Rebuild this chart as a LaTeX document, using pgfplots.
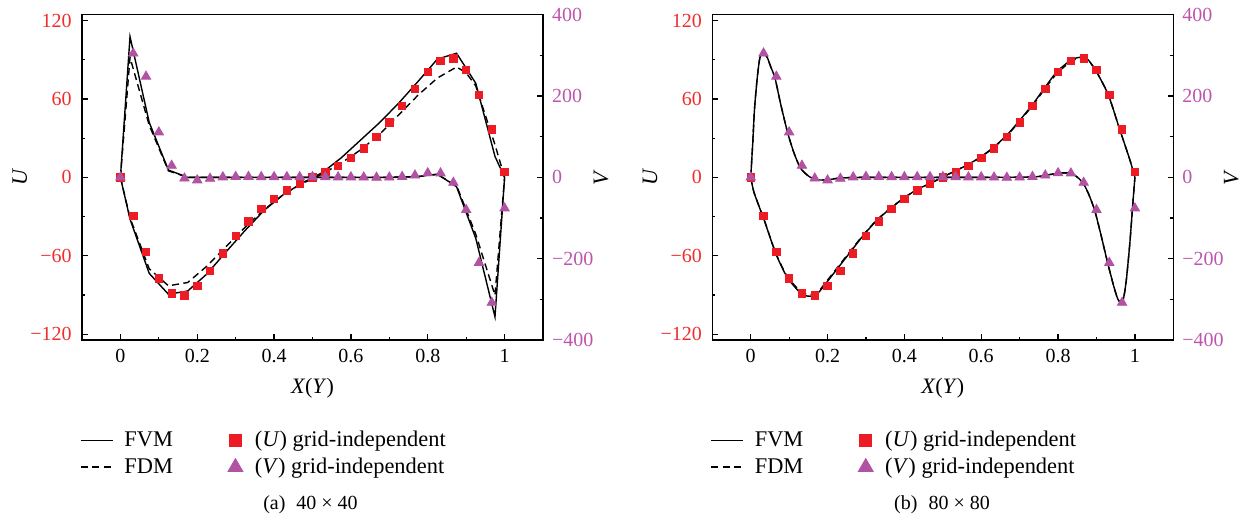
\documentclass[border=0pt]{standalone}
\usepackage{pgfplots}
\pgfplotsset{compat=1.18}
\usepackage{fontspec}
\setmainfont{Liberation Serif}
\definecolor{ured}{RGB}{237,28,36}
\definecolor{utick}{RGB}{240,45,45}
\definecolor{vpurple}{RGB}{178,82,162}
\definecolor{vtick}{RGB}{190,85,172}

\pgfplotsset{
  lgline/.style={legend image code/.code={\draw[##1] (0pt,0pt) -- (16pt,0pt);}},
  lgmark/.style={legend image code/.code={\path (0pt,0pt) (8pt,0pt); \draw[##1] plot coordinates {(4pt,0pt)};}},
  common/.style={
    scale only axis, width=230.5pt, height=162.65pt,
    xmin=-0.1, xmax=1.1,
    tick align=inside,
    major tick length=2.85pt, minor tick length=1.5pt,
    axis line style={line width=0.8pt},
    every tick/.style={black, line width=0.6pt},
    ticklabel style={font=\fontsize{10}{12}\selectfont},
  },
  uaxis/.style={
    common,
    ymin=-124.5, ymax=124.5,
    xtick={0,0.2,0.4,0.6,0.8,1}, xticklabels={0,0.2,0.4,0.6,0.8,1},
    minor xtick={0.1,0.3,0.5,0.7,0.9},
    ytick={-120,-60,0,60,120}, yticklabels={−120,−60,0,60,120},
    minor ytick={-90,-30,30,90},
    xtick pos=left, ytick pos=left,
    yticklabel style={text=utick, xshift=-1.7pt},
    xticklabel style={yshift=-1pt},
    xlabel={\textit{X}(\textit{Y})},
    xlabel style={at={(axis description cs:0.5,-0.148)}, anchor=center, font=\fontsize{11}{13}\selectfont},
    ylabel={\textit{U}},
    ylabel style={at={(axis description cs:-0.135,0.5)}, anchor=center, font=\fontsize{11}{13}\selectfont},
    legend columns=2,
    legend cell align=left,
    legend style={draw=none, fill=none, at={(axis description cs:-0.018,-0.255)}, anchor=north west,
      font=\fontsize{11.2}{12}\selectfont,
      /tikz/every odd column/.append style={column sep=3.5pt},
      /tikz/every even column/.append style={column sep=25pt}, row sep=0pt},
  },
  vaxis/.style={
    common,
    ymin=-400, ymax=400,
    axis x line=none, axis y line*=right,
    ytick={-400,-200,0,200,400}, yticklabels={−400,−200,0,200,400},
    minor ytick={-300,-100,100,300},
    yticklabel style={text=vtick, xshift=1pt},
    ylabel={\textit{V}},
    ylabel style={at={(axis description cs:1.126,0.5)}, anchor=center, font=\fontsize{11}{13}\selectfont},
  },
  fvm/.style={black, line width=0.7pt},
  fdm/.style={black, line width=0.7pt, dash pattern=on 3.5pt off 2.2pt},
  usq/.style={only marks, mark=square*, mark size=1.85pt, color=ured},
  vtri/.style={only marks, mark=triangle*, mark size=2.7pt, color=vpurple},
}

\pgfplotstableread{
x U
0 0
0.03333 -29.6
0.06667 -56.9
0.1 -77.3
0.13333 -88.8
0.16667 -90.5
0.2 -83.3
0.23333 -71.7
0.26667 -58.2
0.3 -45
0.33333 -33.8
0.36667 -24.2
0.4 -16.6
0.43333 -10.1
0.46667 -5
0.5 0
0.53333 4.1
0.56667 8.9
0.6 15
0.63333 22.2
0.66667 31.1
0.7 42.1
0.73333 54.6
0.76667 67.9
0.8 80.9
0.83333 89.3
0.86667 90.9
0.9 82.2
0.93333 63.3
0.96667 36.7
1 4.3
}\usq

\pgfplotstableread{
x V
0 0
0.03333 305
0.06667 248
0.1 111
0.13333 29
0.16667 -2.5
0.2 -7
0.23333 -3
0.26667 0.5
0.3 1.5
0.33333 1.5
0.36667 1
0.4 1
0.43333 1
0.46667 1
0.5 1
0.53333 1
0.56667 0.5
0.6 0.5
0.63333 0
0.66667 -0.5
0.7 0
0.73333 1.5
0.76667 5
0.8 10.5
0.83333 10
0.86667 -13
0.9 -80
0.93333 -210
0.96667 -308
1 -76
}\vtri

\pgfplotstableread{
x U
0 0
0.025 -32
0.075 -73.5
0.125 -89.5
0.175 -87
0.225 -74
0.275 -57
0.325 -40.5
0.375 -25
0.425 -13
0.475 -4
0.525 3.5
0.575 15
0.625 28.5
0.675 42
0.725 57
0.775 73.5
0.825 90.5
0.875 95
0.925 72
0.975 16
1 0
}\aUfvm

\pgfplotstableread{
x U
0 0
0.025 -31
0.075 -70
0.125 -83
0.175 -80.5
0.225 -68
0.275 -53
0.325 -38
0.375 -24.5
0.425 -13
0.475 -4.5
0.525 2.5
0.575 11
0.625 21
0.675 33
0.725 48
0.775 63
0.825 76
0.875 84.5
0.9 80
0.925 70
0.975 25
1 0
}\aUfdm

\pgfplotstableread{
x V
0 0
0.025 346
0.075 135
0.125 18
0.175 0
0.225 0
0.275 0
0.325 0
0.375 0
0.425 0
0.475 0
0.525 0
0.575 0
0.625 0
0.675 0
0.725 0.5
0.775 2
0.825 8
0.875 -23
0.925 -150
0.975 -343
1 0
}\aVfvm

\pgfplotstableread{
x V
0 0
0.025 295
0.075 128
0.125 16
0.175 0
0.225 0
0.275 0
0.325 0
0.375 0
0.425 0
0.475 0
0.525 0
0.575 0
0.625 0
0.675 0
0.725 0.5
0.775 2
0.825 7
0.875 -20
0.925 -140
0.975 -290
1 0
}\aVfdm

\pgfplotstableread{
x U
0 0
0.009 -12
0.035 -32.7
0.065 -58.2
0.095 -76.6
0.13 -88.8
0.143 -90.6
0.156 -91
0.17 -89.6
0.182 -86.3
0.216 -73.5
0.26 -56.9
0.294 -44.1
0.329 -32.7
0.364 -23.7
0.398 -16.1
0.433 -9.2
0.468 -4.6
0.498 0
0.528 4.3
0.563 9.4
0.597 15.3
0.632 23
0.667 32.4
0.701 43.9
0.736 56.7
0.766 68.9
0.797 80.9
0.831 89.3
0.845 91.2
0.857 91.9
0.868 91.4
0.879 89.8
0.9 80.9
0.931 63
0.961 36.2
0.987 13.3
1 0
}\bUfvm

\pgfplotstableread{
x U
0 0
0.009 -12
0.035 -32.5
0.065 -57.8
0.095 -75.8
0.13 -87.6
0.143 -89.3
0.156 -89.8
0.17 -88.5
0.182 -85.4
0.216 -72.6
0.26 -56.2
0.294 -43.6
0.329 -32.4
0.364 -23.5
0.398 -16
0.433 -9.2
0.468 -4.6
0.498 0
0.528 4.3
0.563 9.3
0.597 15.1
0.632 22.7
0.667 32
0.701 43.3
0.736 55.9
0.766 67.9
0.797 79.6
0.831 88.2
0.845 90.3
0.857 91.2
0.868 90.9
0.879 89.5
0.9 80.9
0.931 63
0.961 36.2
0.987 13.3
1 0
}\bUfdm

\pgfplotstableread{
x V
0 0
0.005 80
0.01 170
0.017 245
0.024 295
0.033 306
0.043 295
0.052 272
0.063 245
0.078 180
0.096 110
0.113 59
0.13 22
0.152 2
0.173 -6
0.2 -6
0.234 -1.5
0.3 0
0.4 0
0.5 0
0.6 0
0.7 0.5
0.745 1.5
0.779 7
0.814 11
0.835 10
0.853 -2
0.866 -15
0.88 -42
0.895 -80
0.91 -135
0.929 -210
0.945 -268
0.955 -298
0.962 -307
0.97 -300
0.978 -250
0.987 -160
0.995 -60
1 0
}\bVfvm

\begin{document}
\begin{tikzpicture}
\path[use as bounding box] (0,0) rectangle (622.5pt,-259.5pt);

% ---------- panel (a) ----------
\begin{axis}[uaxis, at={(41pt,-170pt)}, anchor=south west]
  \addplot[fvm, forget plot] table[x=x,y=U] {\aUfvm};
  \addplot[fdm, forget plot] table[x=x,y=U] {\aUfdm};
  \addplot[usq, forget plot] table[x=x,y=U] {\usq};
  \addlegendimage{fvm, lgline}
  \addlegendentry{FVM}
  \addlegendimage{only marks, mark=square*, mark size=3pt, color=ured, lgmark}
  \addlegendentry{(\textit{U}) grid-independent}
  \addlegendimage{fdm, lgline}
  \addlegendentry{FDM}
  \addlegendimage{only marks, mark=triangle*, mark size=4.3pt, color=vpurple, lgmark}
  \addlegendentry{(\textit{V}) grid-independent}
\end{axis}
\begin{axis}[vaxis, at={(41pt,-170pt)}, anchor=south west]
  \addplot[fvm] table[x=x,y=V] {\aVfvm};
  \addplot[fdm] table[x=x,y=V] {\aVfdm};
  \addplot[vtri] table[x=x,y=V] {\vtri};
\end{axis}
\node[font=\fontsize{10}{12}\selectfont] at (155.25pt,-252.5pt) {(a)\hspace{0.55em}40 × 40};

% ---------- panel (b) ----------
\begin{axis}[uaxis, at={(356.15pt,-170pt)}, anchor=south west]
  \addplot[fvm, smooth, tension=0.4, forget plot] table[x=x,y=U] {\bUfvm};
  \addplot[fdm, smooth, tension=0.4, forget plot] table[x=x,y=U] {\bUfdm};
  \addplot[usq, forget plot] table[x=x,y=U] {\usq};
  \addlegendimage{fvm, lgline}
  \addlegendentry{FVM}
  \addlegendimage{only marks, mark=square*, mark size=3pt, color=ured, lgmark}
  \addlegendentry{(\textit{U}) grid-independent}
  \addlegendimage{fdm, lgline}
  \addlegendentry{FDM}
  \addlegendimage{only marks, mark=triangle*, mark size=4.3pt, color=vpurple, lgmark}
  \addlegendentry{(\textit{V}) grid-independent}
\end{axis}
\begin{axis}[vaxis, at={(356.15pt,-170pt)}, anchor=south west]
  \addplot[fdm, smooth, tension=0.4] table[x=x,y=V] {\bVfvm};
  \addplot[fvm, smooth, tension=0.4] table[x=x,y=V] {\bVfvm};
  \addplot[vtri] table[x=x,y=V] {\vtri};
\end{axis}
\node[font=\fontsize{10}{12}\selectfont] at (471pt,-252.5pt) {(b)\hspace{0.55em}80 × 80};
\end{tikzpicture}
\end{document}
